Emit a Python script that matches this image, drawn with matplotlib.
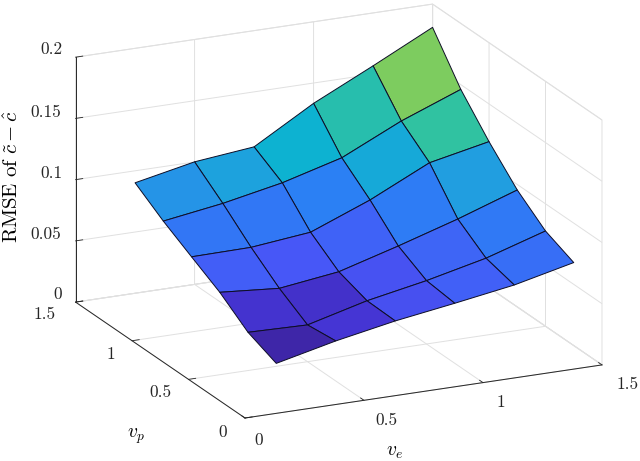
import numpy as np
import matplotlib
matplotlib.use('Agg')
import matplotlib.pyplot as plt
from matplotlib.colors import LinearSegmentedColormap, Normalize
from matplotlib.transforms import Affine2D
from mpl_toolkits.mplot3d import proj3d

plt.rcParams['font.family'] = ['cmr10', 'DejaVu Serif']
plt.rcParams['mathtext.fontset'] = 'cm'
plt.rcParams['axes.formatter.use_mathtext'] = True

v_e = [0.25, 0.5, 0.75, 1.0, 1.25, 1.5]
v_p = [0.25, 0.5, 0.75, 1.0, 1.25, 1.5]
rmse_p025 = [.0216, .0327, .0418, .0490, .0567, .0678]
rmse_p050 = [.0312, .0300, .0425, .0517, .0628, .0778]
rmse_p075 = [.0481, .0441, .0504, .0642, .0790, .0955]
rmse_p100 = [.0613, .0618, .0669, .0860, .1092, .1192]
rmse_p125 = [.0747, .0819, .0915, .1047, .1275, .1461]
rmse_p150 = [.0902, .1001, .1051, .1334, .1568, .1810]

x_ticks = [0, 0.5, 1, 1.5]
y_ticks = [0, 0.5, 1, 1.5]
z_ticks = [0, 0.05, 0.1, 0.15, 0.2]
x_labels = ['0', '0.5', '1', '1.5']
y_labels = ['0', '0.5', '1', '1.5']
z_labels = ['0', '0.05', '0.1', '0.15', '0.2']

parula_old = LinearSegmentedColormap.from_list('parula_old', [
    (0.00, (.2422, .1504, .6603)), (0.07, (.27, .21, .84)), (0.14, (.28, .34, .97)),
    (0.28, (.17, .50, .96)), (0.36, (.13, .62, .88)), (0.44, (.05, .70, .82)),
    (0.55, (.19, .76, .63)), (0.667, (.49, .80, .37)), (0.80, (.85, .73, .24)),
    (0.90, (.99, .80, .21)), (1.00, (.977, .984, .08))])

X, Y = np.meshgrid(v_e, v_p)
Z = np.array([rmse_p025, rmse_p050, rmse_p075, rmse_p100, rmse_p125, rmse_p150])

W, H = 640, 461
fig = plt.figure(figsize=(W / 100, H / 100), dpi=100)
ax = fig.add_axes([0, 0, 1, 1], projection='3d', proj_type='ortho')
ax.view_init(elev=18.6, azim=-115)
aspect = (394, 401, 258.5)
ax.set_box_aspect(aspect)

norm = Normalize(Z.min(), Z.max())
surf = ax.plot_surface(X, Y, Z, rstride=1, cstride=1, facecolors=parula_old(norm(Z)),
                       edgecolor=(0.05, 0.05, 0.15), linewidth=0.7, shade=False, antialiased=True)
surf.set_clip_on(False)

ax.set_xlim(0, 1.5); ax.set_ylim(0, 1.5); ax.set_zlim(0, 0.2)
ax.set_xticks(x_ticks); ax.set_xticklabels(x_labels)
ax.set_yticks(y_ticks); ax.set_yticklabels(y_labels)
ax.set_zticks(z_ticks); ax.set_zticklabels(z_labels)
ax.tick_params(labelsize=12.5, colors=(0.15, 0.15, 0.15), pad=1)
ax.tick_params(axis='z', pad=4)
ax.tick_params(axis='y', pad=3)
ax.tick_params(axis='x', pad=3)

ax.xaxis.set_rotate_label(False)
ax.yaxis.set_rotate_label(False)
ax.zaxis.set_rotate_label(False)
ax.set_xlabel(r'$v_e$', fontsize=14, labelpad=6)
ax.set_ylabel(r'$v_p$', fontsize=14, labelpad=6)
ax.set_zlabel(r'$\mathrm{RMSE\ of}\ \tilde{c}-\hat{c}$', fontsize=15, rotation=90, labelpad=0)

for axis in (ax.xaxis, ax.yaxis, ax.zaxis):
    axis.set_pane_color((1, 1, 1, 1))
    axis.pane.set_edgecolor((0.88, 0.88, 0.88))
    axis.pane.set_linewidth(0.7)
    axis.line.set_color((0.15, 0.15, 0.15))
    axis.line.set_linewidth(0.7)
    axis._axinfo['grid'].update(color=(0.88, 0.88, 0.88), linewidth=0.7)
    axis._axinfo['tick'].update(inward_factor=0.0, outward_factor=0.25)
    axis._axinfo['tick']['linewidth'] = {True: 0.6, False: 0.6}


def pix(x, y, z):
    px, py, _ = proj3d.proj_transform(x, y, z, ax.get_proj())
    return ax.transData.transform((px, py))


# scale and place the box so its floor corners land where the reference has them
fig.canvas.draw()
p0, p1 = pix(0, 0, 0), pix(1.5, 0, 0)
ax.set_box_aspect(aspect, zoom=np.hypot(357, 53) / np.hypot(*(p1 - p0)))
fig.canvas.draw()
p0 = pix(0, 0, 0)
ax.set_position([(245 - p0[0]) / W, ((H - 418) - p0[1]) / H, 1, 1])
fig.canvas.draw()


def nudge(text, dx, dy_down):
    # the 3D axis resets text transforms on every draw, so offset at lookup time
    shift = Affine2D().translate(dx, -dy_down)
    text.get_transform = lambda: ax.transData + shift


x_nudges = [(3, -8), (12, -11), (7, -11), (15, -11)]
y_nudges = [(0, -12), (-5, -14), (1, -13), (-8, -14)]
z_nudges = [(19, -11), (7, -10), (12, -10), (7, -9), (12, -11)]
for axis, shifts in ((ax.xaxis, x_nudges), (ax.yaxis, y_nudges), (ax.zaxis, z_nudges)):
    for tick, (dx, dy) in zip(axis.get_major_ticks(), shifts):
        nudge(tick.label1, dx, dy)
nudge(ax.xaxis.label, -55, 4)
nudge(ax.yaxis.label, 32, 30)
nudge(ax.zaxis.label, 1, 5)

fig.savefig('out.png', dpi=100)
